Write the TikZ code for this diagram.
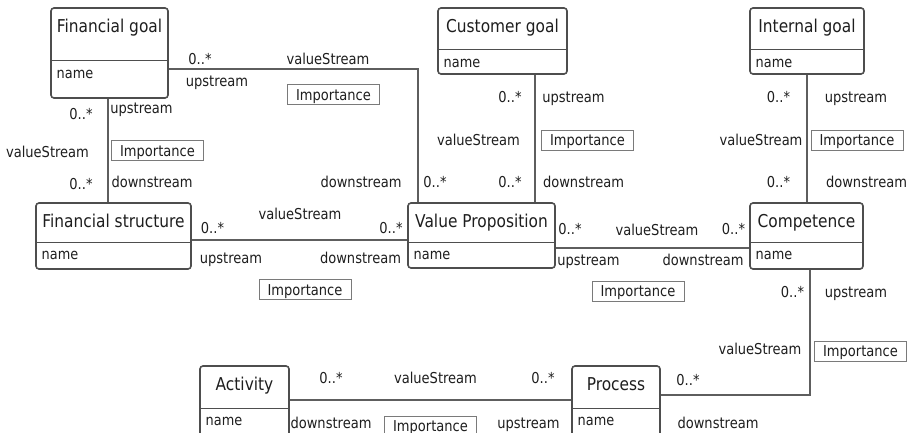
\documentclass[tikz,border=0pt]{standalone}
\usepackage{fontspec}
\setmainfont[FakeStretch=0.87]{DejaVu Sans}
\usetikzlibrary{calc}

\definecolor{boxline}{HTML}{4E4E4E}
\definecolor{assocline}{HTML}{5E5E5E}
\definecolor{tagline}{HTML}{7A7A7A}
\definecolor{ink}{HTML}{1E1E1E}

\tikzset{
  classbox/.style={draw=boxline, line width=1.6pt, rounded corners=3pt,
    fill=white, outer sep=0pt, inner sep=0pt},
  classsep/.style={draw=boxline, line width=1pt},
  titletext/.style={inner sep=0pt, text=ink, text height=12.9pt, text depth=0pt,
    font=\fontsize{17.7}{20}\selectfont},
  attrtext/.style={inner sep=0pt, text=ink, anchor=west, text height=11.2pt, text depth=0pt,
    font=\fontsize{14.8}{17}\selectfont},
  lbl/.style={inner sep=0pt, text=ink, text height=11.4pt, text depth=0pt,
    font=\fontsize{15}{17}\selectfont},
  tagbox/.style={draw=tagline, line width=0.8pt, inner sep=0pt, text=ink,
    text height=11.4pt, text depth=0pt,
    minimum width=92pt, minimum height=20pt, font=\fontsize{15}{17}\selectfont},
  assoc/.style={draw=assocline, line width=1.7pt},
}

% a class box: name, left, top, width, height, separator offset, title
\newcommand\umlclass[7]{%
  \node[classbox, minimum width=#4pt, minimum height=#5pt, anchor=north west] (#1) at (#2,#3) {};
  \draw[classsep] ([yshift=-#6pt]#1.north west) -- ([yshift=-#6pt]#1.north east);
  \node[titletext] (#1-title) at ([yshift=-18pt]#1.north) {#7};
  \node[attrtext] (#1-attr) at ([xshift=5.5pt,yshift=-#6pt-11.5pt]#1.north west) {name};
}

\begin{document}
\begin{tikzpicture}[x=1pt, y=-1pt]
\useasboundingbox (0,0) rectangle (915,433);
\clip (0,0) rectangle (915,433);
\fill[white] (0,0) rectangle (915,433);

% bend points of the routed associations
\coordinate (j1) at (418,69);
\coordinate (j7) at (810,395);

% associations (drawn first, boxes cover their ends)
\draw[assoc] (168,69) -- (j1) -- (418,203);
\draw[assoc] (108,98) -- (108,203);
\draw[assoc] (191,240) -- (408,240);
\draw[assoc] (535,74) -- (535,203);
\draw[assoc] (807,74) -- (807,203);
\draw[assoc] (555,248) -- (750,248);
\draw[assoc] (810,269) -- (j7) -- (660,395);
\draw[assoc] (289,400) -- (572,400);

% classes
\umlclass{fg}{51}{8}{117}{90}{53}{Financial goal}
\umlclass{cg}{438}{8}{129}{66}{42}{Customer goal}
\umlclass{ig}{750}{8}{114}{66}{42}{Internal goal}
\umlclass{fs}{36}{203}{155}{66}{39}{Financial structure}
\umlclass{vp}{408}{203}{147}{65}{39}{Value Proposition}
\umlclass{cp}{750}{203}{113}{66}{39}{Competence}
\umlclass{ac}{200}{366}{89}{80}{42}{Activity}
\umlclass{pr}{572}{366}{88}{80}{42}{Process}

% Financial goal -- Value Proposition
\node[lbl] (a1m1) at (200,59) {0..*};
\node[lbl] (a1r)  at (328,59) {valueStream};
\node[lbl] (a1u)  at (217,81) {upstream};
\node[tagbox] (a1t) at (333.5,94.5) {Importance};
\node[lbl] (a1d)  at (361,182) {downstream};
\node[lbl] (a1m2) at (435,182) {0..*};

% Financial goal -- Financial structure
\node[lbl] (a2m1) at (81,114) {0..*};
\node[lbl] (a2u)  at (141.5,108) {upstream};
\node[lbl] (a2r)  at (47.5,152) {valueStream};
\node[tagbox] (a2t) at (157.5,150.5) {Importance};
\node[lbl] (a2m2) at (81,184) {0..*};
\node[lbl] (a2d)  at (152,182) {downstream};

% Financial structure -- Value Proposition
\node[lbl] (a3r)  at (300,214) {valueStream};
\node[lbl] (a3m1) at (212.5,228) {0..*};
\node[lbl] (a3m2) at (391,228) {0..*};
\node[lbl] (a3u)  at (231,258) {upstream};
\node[lbl] (a3d)  at (360.5,258) {downstream};
\node[tagbox] (a3t) at (305,289.5) {Importance};

% Customer goal -- Value Proposition
\node[lbl] (a4m1) at (510,97) {0..*};
\node[lbl] (a4u)  at (573.5,97) {upstream};
\node[lbl] (a4r)  at (478.5,140) {valueStream};
\node[tagbox] (a4t) at (587.5,140) {Importance};
\node[lbl] (a4m2) at (510,182) {0..*};
\node[lbl] (a4d)  at (583.5,182) {downstream};

% Internal goal -- Competence
\node[lbl] (a5m1) at (778.5,97) {0..*};
\node[lbl] (a5u)  at (856,97) {upstream};
\node[lbl] (a5r)  at (761,140) {valueStream};
\node[tagbox] (a5t) at (857,140) {Importance};
\node[lbl] (a5m2) at (778.5,182) {0..*};
\node[lbl] (a5d)  at (866.5,182) {downstream};

% Value Proposition -- Competence
\node[lbl] (a6m1) at (570,229) {0..*};
\node[lbl] (a6r)  at (657,230) {valueStream};
\node[lbl] (a6m2) at (733.5,229) {0..*};
\node[lbl] (a6u)  at (588.5,260) {upstream};
\node[lbl] (a6d)  at (703,260) {downstream};
\node[tagbox] (a6t) at (638,291) {Importance};

% Competence -- Process
\node[lbl] (a7m1) at (792.5,292) {0..*};
\node[lbl] (a7u)  at (856,292) {upstream};
\node[lbl] (a7r)  at (760,349) {valueStream};
\node[tagbox] (a7t) at (860.5,351) {Importance};
\node[lbl] (a7m2) at (688,380) {0..*};
\node[lbl] (a7d)  at (718,423) {downstream};

% Activity -- Process
\node[lbl] (a8m1) at (331,378) {0..*};
\node[lbl] (a8r)  at (435.5,378) {valueStream};
\node[lbl] (a8m2) at (543,378) {0..*};
\node[lbl] (a8d)  at (331,423) {downstream};
\node[tagbox] (a8t) at (430.5,426) {Importance};
\node[lbl] (a8u)  at (528.5,423) {upstream};
\end{tikzpicture}
\end{document}
